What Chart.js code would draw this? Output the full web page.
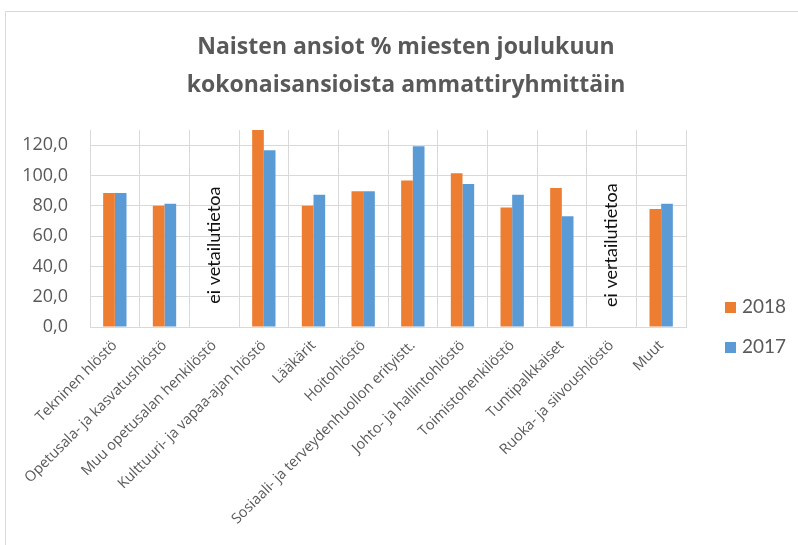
<!DOCTYPE html>
<html>
<head>
<meta charset="utf-8">
<script src="https://cdn.jsdelivr.net/npm/chart.js@4.4.1/dist/chart.umd.min.js"></script>
<style>
  html, body { margin: 0; padding: 0; background: #fff; }
  #wrap { width: 798px; height: 545px; }
</style>
</head>
<body>
<div id="wrap"><canvas id="chart" width="798" height="545"></canvas></div>
<script>
const categories = [
  'Tekninen hlöstö',
  'Opetusala- ja kasvatushlöstö',
  'Muu opetusalan henkilöstö',
  'Kulttuuri- ja vapaa-ajan hlöstö',
  'Lääkärit',
  'Hoitohlöstö',
  'Sosiaali- ja terveydenhuollon erityistt.',
  'Johto- ja hallintohlöstö',
  'Toimistohenkilöstö',
  'Tuntipalkkaiset',
  'Ruoka- ja siivoushlöstö',
  'Muut',
];
const values2018 = [88.5, 80.0, null, 134.0, 80.0, 89.6, 96.6, 101.4, 78.9, 91.8, null, 77.9];
const values2017 = [88.5, 81.3, null, 116.7, 87.2, 89.6, 119.3, 94.4, 87.2, 73.1, null, 81.3];
const seriesNames = ['2018', '2017'];
const seriesColors = ['#ED7D31', '#5B9BD5'];
const titleLines = ['Naisten ansiot % miesten joulukuun', 'kokonaisansioista ammattiryhmittäin'];
const yMin = 0;
const yMax = 130;
const yStep = 20;
const missingNotes = [
  { category: 'Muu opetusalan henkilöstö', text: 'ei vetailutietoa' },
  { category: 'Ruoka- ja siivoushlöstö', text: 'ei vertailutietoa' },
];

const TEXT_GREY = '#595959';
const GRID_GREY = '#d9d9d9';
const FONT = '"Open Sans", Lato, sans-serif';

function formatTick(value) {
  return value.toFixed(1).replace('.', ',');
}

// frame, title, legend and the "no data" notes are drawn here
const decorations = {
  id: 'decorations',
  beforeDraw(chart) {
    const ctx = chart.ctx;
    ctx.save();
    ctx.strokeStyle = GRID_GREY;
    ctx.lineWidth = 1;
    ctx.beginPath();
    ctx.moveTo(5.5, chart.height + 5);
    ctx.lineTo(5.5, 11.5);
    ctx.lineTo(chart.width + 5, 11.5);
    ctx.stroke();
    ctx.restore();
  },
  afterDraw(chart) {
    const ctx = chart.ctx;
    const xScale = chart.scales.x;
    const yScale = chart.scales.y;
    ctx.save();

    // title
    ctx.fillStyle = TEXT_GREY;
    ctx.font = `bold 23px ${FONT}`;
    ctx.textAlign = 'center';
    ctx.textBaseline = 'alphabetic';
    titleLines.forEach((line, i) => {
      ctx.fillText(line, 406, 54 + i * 38);
    });

    // legend
    ctx.font = `19px Lato, sans-serif`;
    ctx.textAlign = 'left';
    seriesNames.forEach((name, i) => {
      const base = 313 + i * 40;
      ctx.fillStyle = seriesColors[i];
      ctx.fillRect(725, base - 11, 11, 11);
      ctx.fillStyle = TEXT_GREY;
      ctx.fillText(name, 742, base);
    });

    // notes for missing comparison data
    ctx.fillStyle = '#111';
    ctx.font = `18px Lato, sans-serif`;
    ctx.textAlign = 'center';
    ctx.textBaseline = 'middle';
    missingNotes.forEach((note) => {
      const x = xScale.getPixelForValue(categories.indexOf(note.category));
      const y = yScale.getPixelForValue(54);
      ctx.save();
      ctx.translate(x, y);
      ctx.rotate(-Math.PI / 2);
      ctx.fillText(note.text, 0, 0);
      ctx.restore();
    });

    ctx.restore();
  },
};

const ctx = document.getElementById('chart').getContext('2d');
new Chart(ctx, {
  type: 'bar',
  data: {
    labels: categories,
    datasets: [
      {
        label: seriesNames[0],
        data: values2018,
        backgroundColor: seriesColors[0],
        categoryPercentage: 0.47,
        barPercentage: 1.0,
      },
      {
        label: seriesNames[1],
        data: values2017,
        backgroundColor: seriesColors[1],
        categoryPercentage: 0.47,
        barPercentage: 1.0,
      },
    ],
  },
  options: {
    responsive: false,
    animation: false,
    layout: {
      padding: { top: 130, left: 0, right: 112, bottom: 0 },
    },
    plugins: {
      legend: { display: false },
      title: { display: false },
      tooltip: { enabled: false },
    },
    scales: {
      x: {
        grid: { color: GRID_GREY, drawTicks: false, offset: true },
        border: { color: GRID_GREY },
        ticks: {
          color: TEXT_GREY,
          font: { family: FONT, size: 14.5 },
          minRotation: 45,
          maxRotation: 45,
          autoSkip: false,
          padding: 10,
        },
        afterFit(scale) {
          scale.height = 218;
        },
      },
      y: {
        min: yMin,
        max: yMax,
        grid: { color: GRID_GREY, drawTicks: false },
        border: { display: false },
        ticks: {
          stepSize: yStep,
          includeBounds: false,
          color: TEXT_GREY,
          font: { family: FONT, size: 18 },
          padding: 22,
          callback: (value) => formatTick(value),
        },
        afterFit(scale) {
          scale.width = 90;
        },
      },
    },
  },
  plugins: [decorations],
});
</script>
</body>
</html>
